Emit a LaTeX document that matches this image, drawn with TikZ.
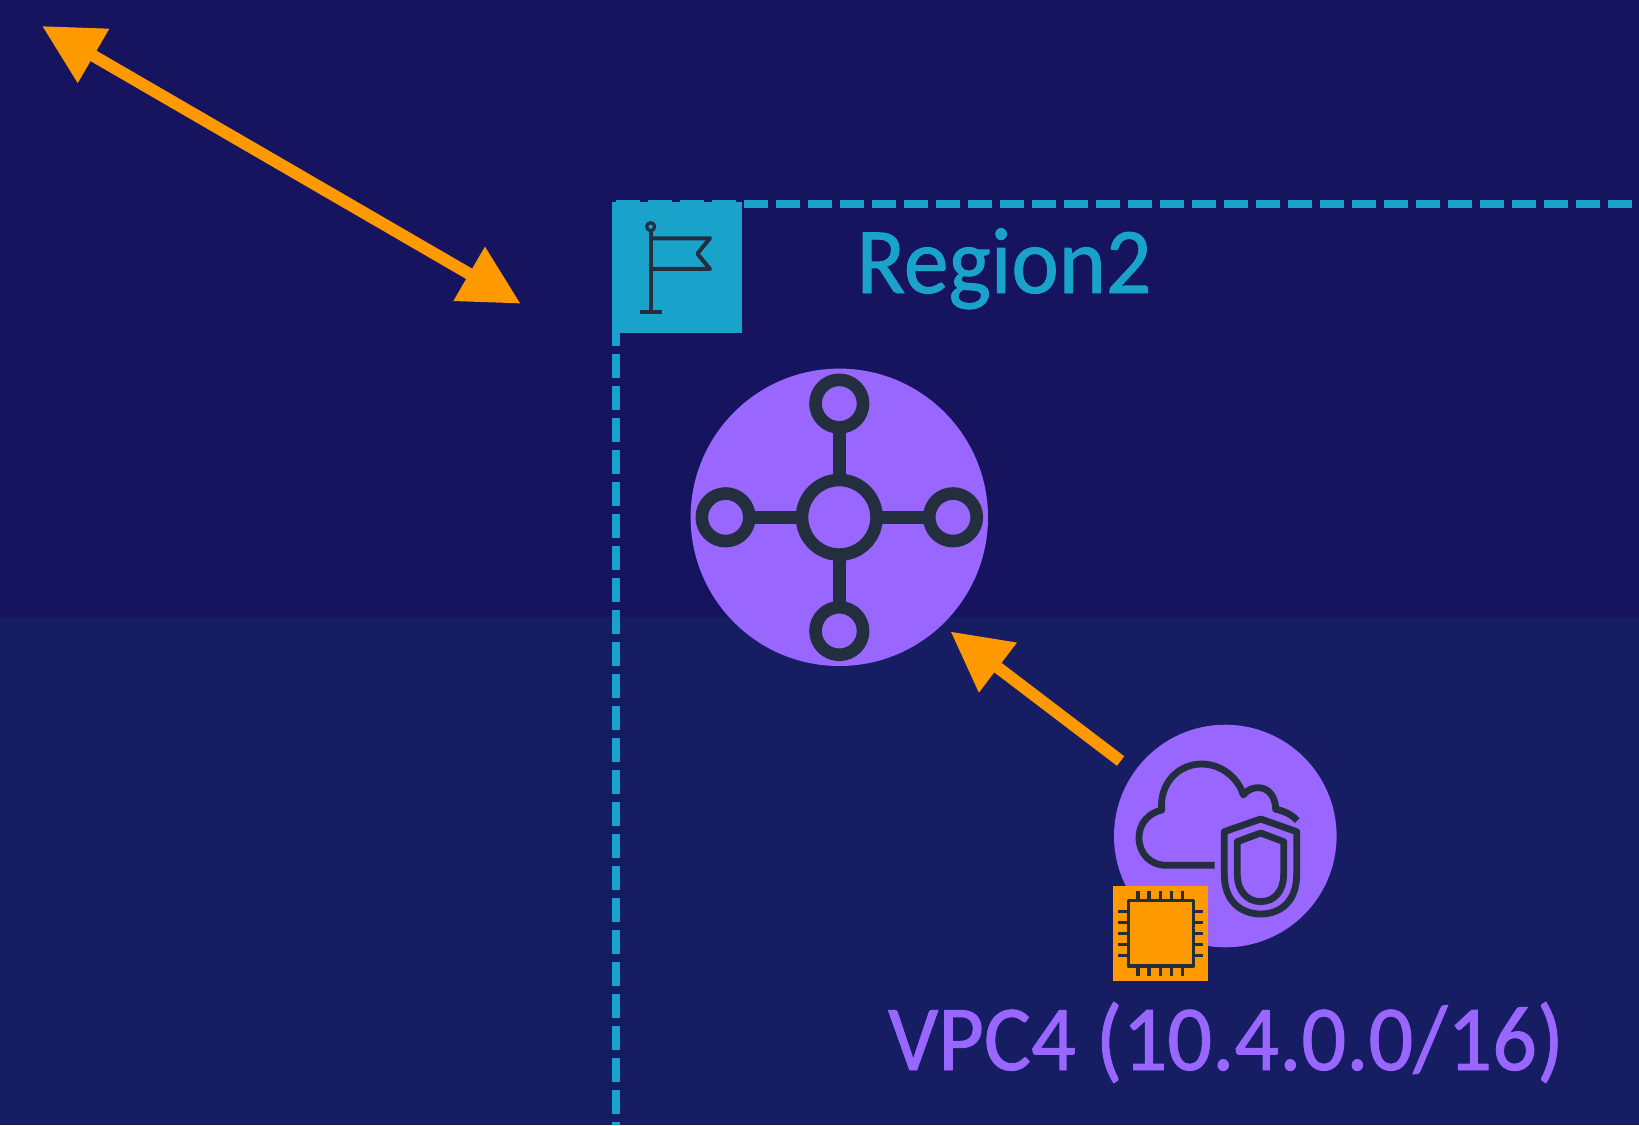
\documentclass[tikz,border=0pt]{standalone}
\usepackage{fontspec}
\setmainfont{Carlito}
\newfontfamily\labelfont{Carlito}[FakeBold=1]
\usetikzlibrary{arrows.meta}
\definecolor{bgtop}{HTML}{16135F}
\definecolor{bgbot}{HTML}{161D63}
\definecolor{regionblue}{HTML}{19A3CB}
\definecolor{vpcpurple}{HTML}{9966FF}
\definecolor{icondark}{HTML}{232F3E}
\definecolor{arroworange}{HTML}{FF9900}
\tikzset{
  flow/.style={line width=12pt,draw=arroworange,{Stealth[length=59.6pt,width=59.4pt,inset=0pt]}-{Stealth[length=59.6pt,width=59.4pt,inset=0pt]}},
  flowone/.style={line width=12pt,draw=arroworange,-{Stealth[length=59.6pt,width=59.4pt,inset=0pt]}},
  boundary/.style={line width=8pt,draw=regionblue,dash pattern=on 24pt off 8pt},
  purplecircle/.style={circle,fill=vpcpurple,inner sep=0pt,outer sep=0pt},
  iconline/.style={draw=icondark,line join=round},
  regionlabel/.style={text=regionblue,font=\labelfont\fontsize{94}{94}\selectfont,anchor=base,inner sep=0pt,xscale=0.955,transform shape},
  vpclabel/.style={text=vpcpurple,font=\labelfont\fontsize{93}{93}\selectfont,anchor=base,inner sep=0pt,xscale=0.95,transform shape},
}
\begin{document}
\begin{tikzpicture}[x=1pt,y=-1pt]
\useasboundingbox (0,0) rectangle (1639,1125);
\fill[bgtop] (0,0) rectangle (1639,617);
\fill[bgbot] (0,617) rectangle (1639,1125);
% region boundary
\coordinate (corner) at (616,204);
\coordinate (topend) at (1639,204);
\coordinate (leftend) at (616,1125);
\draw[boundary] (corner) -- (topend);
\draw[boundary,dash phase=10pt] (corner) -- (leftend);
\node[fill=regionblue,minimum width=130pt,minimum height=131pt,inner sep=0pt,outer sep=0pt] (flagbox) at (676.7,267) {};
\begin{scope}[shift={(600,190)},x=0.3333pt,y=-0.3333pt,iconline,line width=4pt]
  \draw (152,122) -- (152,367);
  \draw (120,367) -- (186,367);
  \draw[line width=3.2pt] (152,110) circle[radius=12];
  \draw (152,145) -- (330,145) -- (292,191) -- (330,237) -- (152,237);
\end{scope}
\node[regionlabel] (region) at (1004,293) {Region2};
% transit gateway
\node[purplecircle,minimum size=297.4pt] (tgw) at (839.3,517.3) {};
\begin{scope}[shift={(839.3,517.3)},iconline,line width=12.6pt]
  \draw (0,-37.3) -- (0,-90);
  \draw (0,37.3) -- (0,90);
  \draw (-37.3,0) -- (-90,0);
  \draw (37.3,0) -- (90,0);
  \draw (0,0) circle[radius=37.3];
  \draw (0,-113.7) circle[radius=23.8];
  \draw (0,113.7) circle[radius=23.8];
  \draw (-113.7,0) circle[radius=23.8];
  \draw (113.7,0) circle[radius=23.8];
\end{scope}
% vpc
\node[purplecircle,minimum size=222.6pt] (vpc) at (1225.3,836) {};
\begin{scope}[shift={(1100,715)},x=0.3333pt,y=-0.3333pt,iconline,line width=6.8pt]
  \draw (344,451) -- (200,451) .. controls (150,451) and (117,415) .. (117,368)
     .. controls (117,325) and (145,295) .. (185,285)
     .. controls (178,205) and (235,147) .. (305,147)
     .. controls (365,147) and (415,190) .. (430,240)
     .. controls (445,222) and (460,218) .. (475,218)
     .. controls (505,218) and (527,245) .. (527,283)
     .. controls (550,287) and (575,298) .. (592,317);
  \draw (373,350) -- (482,312) -- (590,350) -- (590,480)
     .. controls (590,555) and (545,597) .. (482,597)
     .. controls (420,597) and (373,555) .. (373,480) -- cycle;
  \draw (412,380) -- (482,354) -- (551,380) -- (551,480)
     .. controls (551,525) and (525,560) .. (482,560)
     .. controls (440,560) and (412,525) .. (412,480) -- cycle;
\end{scope}
\node[fill=arroworange,minimum size=94.4pt,inner sep=0pt,outer sep=0pt] (chip) at (1160.5,933.5) {};
\begin{scope}[shift={(1100,715)},x=0.3333pt,y=-0.3333pt,iconline,line width=3.6pt]
  \draw (85,557) rectangle (280,753);
  \foreach \p in {114,147,181,214,247} {
    \draw (\p,528) -- (\p,557);
    \draw (\p,753) -- (\p,783);
  }
  \foreach \p in {589,622,656,689,722} {
    \draw (54,\p) -- (85,\p);
    \draw (280,\p) -- (310,\p);
  }
\end{scope}
\node[vpclabel] (vpclabeltext) at (1226,1070) {VPC4 (10.4.0.0/16)};
% connectors
\coordinate (aone) at (42,26);
\coordinate (atwo) at (520.7,303.7);
\coordinate (vpcout) at (1120.6,761);
\coordinate (tgwin) at (950.5,631.5);
\draw[flow] (aone) -- (atwo);
\draw[flowone] (vpcout) -- (tgwin);
\end{tikzpicture}
\end{document}
